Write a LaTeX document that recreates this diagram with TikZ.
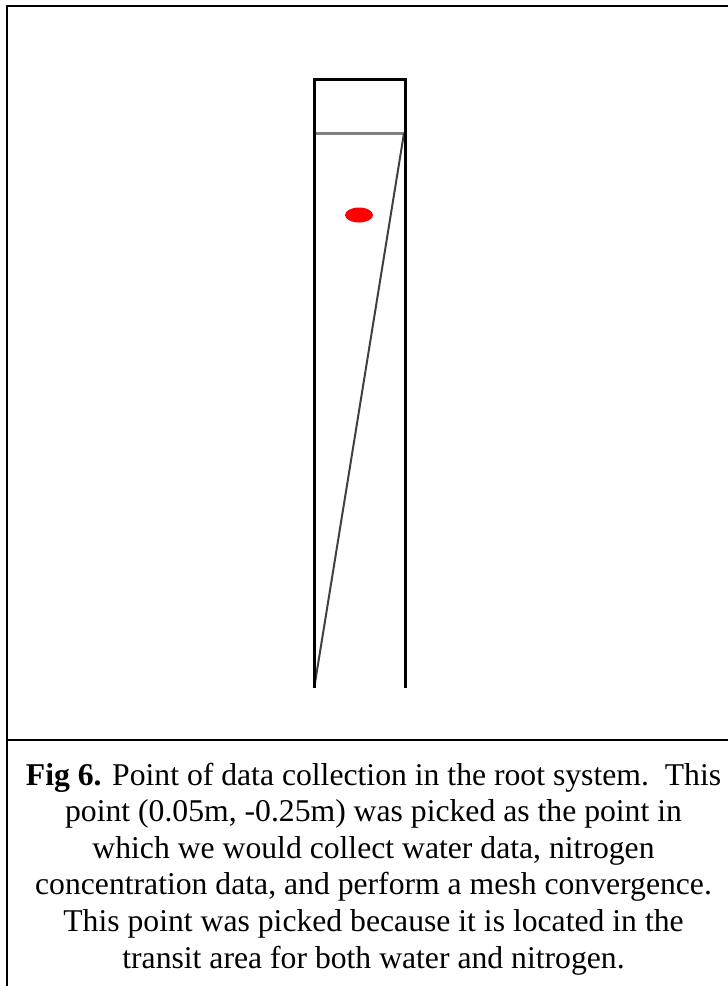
\documentclass[tikz,border=0pt]{standalone}
\usepackage{fontspec}
\setmainfont{Liberation Serif}
\begin{document}
\begin{tikzpicture}[x=1bp,y=-1bp,
  frame/.style={line width=2.6bp,black},
  wall/.style={line width=3bp,black},
  surface/.style={line width=3bp,black!50},
  root/.style={line width=2bp,black!75},
  captxt/.style={anchor=base,inner sep=0pt,font=\fontsize{31.8}{36.6}\selectfont}]
\useasboundingbox (0,0) rectangle (728,986);
% outer frame
\draw[frame] (7,986) -- (7,6) -- (728,6);
\draw[frame] (7,740) -- (728,740);
% column
\coordinate (tl) at (314,79);
\coordinate (tr) at (405.5,79);
\coordinate (bl) at (314,688);
\coordinate (br) at (405.5,688);
\coordinate (sl) at (314,133);
\coordinate (sr) at (405.5,133);
\draw[surface] (sl) -- (sr);
\draw[root] (404,133) -- (314.5,686);
\draw[wall] (bl) -- (tl) -- (tr) -- (br);
% data point
\fill[red] (359,215) ellipse [x radius=14, y radius=7.5];
% caption
\node[captxt] (c1) at (373.5,785) {\textbf{Fig 6.} Point of data collection in the root system.\ \ This};
\node[captxt] (c2) at (373.5,821.5) {point (0.05m, -0.25m) was picked as the point in};
\node[captxt] (c3) at (373.5,858) {which we would collect water data, nitrogen};
\node[captxt] (c4) at (373.5,894.5) {concentration data, and perform a mesh convergence.};
\node[captxt] (c5) at (373.5,931) {This point was picked because it is located in the};
\node[captxt] (c6) at (373.5,968) {transit area for both water and nitrogen.};
\end{tikzpicture}
\end{document}
